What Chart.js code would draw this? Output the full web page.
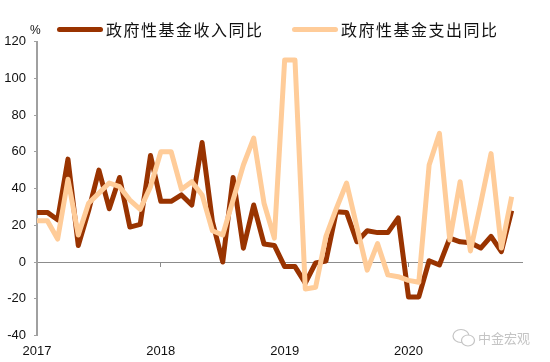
<!DOCTYPE html>
<html>
<head>
<meta charset="utf-8">
<script src="https://cdn.jsdelivr.net/npm/chart.js@4"></script>
<style>
  body { margin: 0; background: #fff; }
  #wrap { position: relative; width: 550px; height: 362px; overflow: hidden; }
  .swatch { position: absolute; top: 27px; width: 46px; height: 5px; border-radius: 3px; }
  .name { position: absolute; top: 17px; font: 16px/24px "Noto Sans CJK SC"; letter-spacing: 1.5px; color: #111; white-space: nowrap; }
  #unit { position: absolute; left: 30px; top: 23px; font: 12px/14px "Liberation Sans"; color: #111; }
  #mark { position: absolute; left: 478px; top: 329px; font: 13px/17px "Noto Sans CJK SC"; color: #c4c4c4; white-space: nowrap; }
  #logo { position: absolute; left: 452px; top: 328px; }
</style>
</head>
<body>
<div id="wrap">
  <canvas id="chart" width="550" height="362"></canvas>
  <div id="unit">%</div>
  <div class="swatch" style="left:57px;background:#993300"></div>
  <div class="name" style="left:106px">政府性基金收入同比</div>
  <div class="swatch" style="left:292px;background:#FFCC99"></div>
  <div class="name" style="left:341px">政府性基金支出同比</div>
  <svg id="logo" width="24" height="20" fill="none" stroke="#c4c4c4" stroke-width="1.2">
    <ellipse cx="9" cy="8" rx="8" ry="6.5"/>
    <ellipse cx="16" cy="12.5" rx="6.5" ry="5.5" fill="#fff"/>
  </svg>
  <div id="mark">中金宏观</div>
</div>
<script>
const years = ['2017', '2018', '2019', '2020'];
const months = [];
years.forEach(y => {
  for (let m = 0; m < 12; m++) months.push(m === 0 ? y : '');
});

const income = [27, 27, 23, 56, 9, 28, 50, 29, 46, 19, 20.5, 58,
  33, 33, 36.5, 31, 65, 22, 0, 46, 7.5, 31, 9.8, 9,
  -2.5, -2.5, -11.5, -0.5, 0.5, 27.4, 27, 11, 17, 16, 16, 24,
  -19, -19, 0.7, -1.6, 13, 11, 10.5, 7.6, 14, 5.6, 28];
const spending = [22.5, 22.5, 12.5, 45, 14.7, 32, 37.5, 43, 41, 33.7, 28.7, 41,
  60, 60, 39.6, 43.7, 36.5, 17, 14.7, 33.7, 52.8, 67.4, 32, 13,
  110, 110, -14.7, -13.7, 14, 29, 43, 19, -4.4, 10, -7, -8,
  -10, -11, 52.8, 70, 12, 43.7, 6, 32, 59, 7.6, 35.5];

new Chart(document.getElementById('chart'), {
  type: 'line',
  data: {
    labels: months,
    datasets: [
      { label: '政府性基金收入同比', data: income, borderColor: '#993300', order: 2 },
      { label: '政府性基金支出同比', data: spending, borderColor: '#FFCC99', order: 1 }
    ]
  },
  options: {
    responsive: false,
    animation: false,
    layout: { padding: { top: 41.5, bottom: 26.5, right: 28, left: 0 } },
    elements: {
      point: { radius: 0 },
      line: { borderWidth: 5, tension: 0, borderJoinStyle: 'round', borderCapStyle: 'butt' }
    },
    plugins: { legend: { display: false }, tooltip: { enabled: false } },
    scales: {
      x: {
        position: { y: 0 },
        offset: false,
        // big tick padding pushes the year labels to the bottom, keep it out of the side margins
        afterFit: scale => { scale.paddingLeft = 0; scale.paddingRight = 0; },
        border: { color: '#8c8c8c', width: 1 },
        grid: {
          drawOnChartArea: false,
          tickLength: 4,
          tickColor: ctx => (ctx.index % 12 === 0 ? '#8c8c8c' : 'transparent')
        },
        ticks: {
          autoSkip: false,
          maxRotation: 0,
          padding: 78,
          color: '#111',
          font: { family: 'Liberation Sans', size: 13 }
        }
      },
      y: {
        min: -40,
        max: 120,
        afterFit: scale => { scale.width = 37; },
        border: { color: '#a0a0a0', width: 2 },
        grid: { drawOnChartArea: false, tickLength: 3, tickColor: '#a0a0a0' },
        ticks: {
          stepSize: 20,
          padding: 8,
          color: '#111',
          font: { family: 'Liberation Sans', size: 13 }
        }
      }
    }
  }
});
</script>
</body>
</html>
